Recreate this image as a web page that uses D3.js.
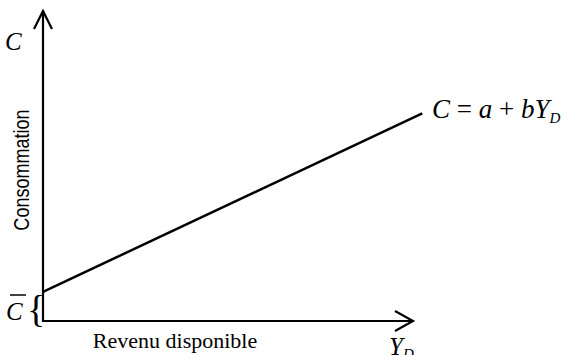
<!DOCTYPE html>
<html>
<head>
<meta charset="utf-8">
<script src="https://cdn.jsdelivr.net/npm/d3@7"></script>
<style>
    body { margin: 0; background: #fff; }
    svg { display: block; }
</style>
</head>
<body>
<div class="content"></div>
<script>
(function () {
    'use strict';
    // consumption function, two end points
    var incomes = [0, 10.25],
        consumption = [0.94, 6.7],
        xDomain = [0, 10],
        yDomain = [0, 10],
        labels = {
            y: 'C',
            x: 'Y',
            xSub: 'D',
            yTitle: 'Consommation',
            xTitle: 'Revenu disponible',
            intercept: 'C'
        };

    var SERIF = "'Liberation Serif'",
        SANS = "'Liberation Sans'",
        width = 576, height = 355,
        x = d3.scaleLinear().domain(xDomain).range([43, 413]),
        y = d3.scaleLinear().domain(yDomain).range([321, 11]),
        svg = d3.select('.content').append('svg')
            .attr('width', width)
            .attr('height', height);

    // axes
    svg.append('line')
        .attr('x1', x(0)).attr('y1', y(0) + 1)
        .attr('x2', x(0)).attr('y2', y(10))
        .attr('stroke', '#000').attr('stroke-width', 2.2);
    svg.append('line')
        .attr('x1', x(0) - 1).attr('y1', y(0))
        .attr('x2', x(10)).attr('y2', y(0))
        .attr('stroke', '#000').attr('stroke-width', 2.2);

    // arrow heads
    svg.append('path')
        .attr('d', 'M' + (x(0) - 9) + ',' + (y(10) + 18) + 'L' + x(0) + ',' + y(10) + 'L' + (x(0) + 9) + ',' + (y(10) + 18))
        .attr('fill', 'none').attr('stroke', '#000').attr('stroke-width', 2.2);
    svg.append('path')
        .attr('d', 'M' + (x(10) - 18) + ',' + (y(0) - 10) + 'L' + x(10) + ',' + y(0) + 'L' + (x(10) - 18) + ',' + (y(0) + 10))
        .attr('fill', 'none').attr('stroke', '#000').attr('stroke-width', 2.2);

    // consumption line
    var line = d3.line()
        .x(function (d) { return x(d[0]); })
        .y(function (d) { return y(d[1]); });
    svg.append('path')
        .datum(d3.zip(incomes, consumption))
        .attr('d', line)
        .attr('fill', 'none').attr('stroke', '#000').attr('stroke-width', 2.5);

    // axis letters
    svg.append('text')
        .style('font-family', SERIF)
        .attr('x', 5).attr('y', 50)
        .attr('font-size', 25).attr('font-style', 'italic')
        .text(labels.y);

    var yd = svg.append('text')
        .style('font-family', SERIF)
        .attr('x', 389).attr('y', 355)
        .attr('font-size', 25).attr('font-style', 'italic');
    yd.append('tspan').text(labels.x);
    yd.append('tspan').attr('font-size', 15).attr('dy', 4).text(labels.xSub);

    // titles
    svg.append('text')
        .attr('transform', 'translate(' + 29 + ',' + 170 + ') rotate(-90) scale(0.82,1)')
        .attr('text-anchor', 'middle')
        .style('font-family', SANS)
        .attr('font-size', 22)
        .text(labels.yTitle);

    svg.append('text')
        .style('font-family', SERIF)
        .attr('x', 175).attr('y', 348)
        .attr('text-anchor', 'middle')
        .attr('font-size', 22)
        .text(labels.xTitle);

    // equation
    var eq = svg.append('text')
        .style('font-family', SERIF)
        .attr('x', 432).attr('y', 118)
        .attr('font-size', 27);
    eq.append('tspan').attr('font-style', 'italic').text('C');
    eq.append('tspan').text(' = ');
    eq.append('tspan').attr('font-style', 'italic').text('a');
    eq.append('tspan').text(' + ');
    eq.append('tspan').attr('font-style', 'italic').text('bY');
    eq.append('tspan').attr('font-style', 'italic').attr('font-size', 15).attr('dy', 5).text('D');

    // intercept with bar and brace
    svg.append('text')
        .style('font-family', SERIF)
        .attr('x', 6).attr('y', 320)
        .attr('font-size', 25).attr('font-style', 'italic')
        .text(labels.intercept);
    svg.append('line')
        .attr('x1', 10).attr('x2', 26)
        .attr('y1', 295).attr('y2', 295)
        .attr('stroke', '#000').attr('stroke-width', 1.5);
    svg.append('text')
        .style('font-family', SERIF)
        .attr('x', 27).attr('y', 322)
        .attr('font-size', 38)
        .text('{');
}());
</script>
</body>
</html>
